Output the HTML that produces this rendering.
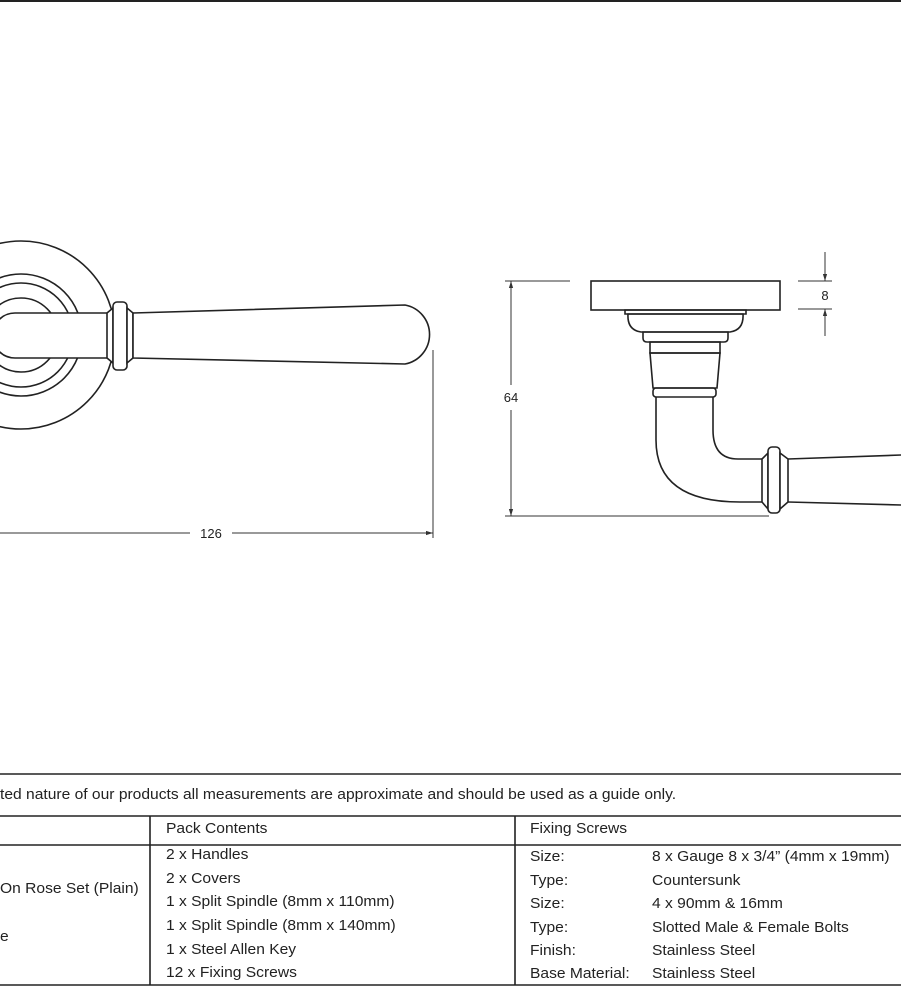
<!DOCTYPE html>
<html><head><style>
body{margin:0;width:901px;height:1001px;background:#fff;overflow:hidden;position:relative;font-family:"Liberation Sans Narrow","Liberation Sans",sans-serif;color:#222}
svg{position:absolute;left:0;top:0}
.t{position:absolute;font-size:15px;white-space:nowrap;transform-origin:0 0;transform:scaleX(1.04)}
</style></head><body>
<svg width="901" height="1001" viewBox="0 0 901 1001">
<defs><marker id="a" viewBox="0 0 10 10" refX="10" refY="5" markerWidth="7" markerHeight="7" orient="auto-start-reverse"><path d="M0,2 L10,5 L0,8z" fill="#333"/></marker></defs>
<g fill="none" stroke="#222" stroke-width="1.6">
<line x1="0" y1="1" x2="901" y2="1" stroke-width="2"/>
<circle cx="21" cy="335" r="94"/>
<circle cx="21" cy="335" r="61"/>
<circle cx="21" cy="335" r="52"/>
<circle cx="21" cy="335" r="37"/>
<path d="M107,313 L15,313 A22,22 0 0 0 15,358 L107,358" fill="#fff"/>
<path d="M107,313 L113,308 L113,363 L107,358 Z" fill="#fff"/>
<rect x="113" y="302" width="14" height="68" rx="4" fill="#fff"/>
<path d="M127,308 L133,313 L133,358 L127,363 Z" fill="#fff"/>
<path d="M133,313 L405,305 A30,30 0 0 1 405,364 L133,358 Z" fill="#fff"/>
<rect x="591" y="281" width="189" height="29"/>
<path d="M625,310 L746,310 L746,314 L625,314 Z"/>
<path d="M628,314 L743,314 Q744,330 730,332 L641,332 Q627,330 628,314 Z"/>
<path d="M643,332 L728,332 L728,338 Q728,342 724,342 L647,342 Q643,342 643,338 Z"/>
<rect x="650" y="342" width="70" height="11"/>
<path d="M650,353 L720,353 L717,388 L653,388 Z"/>
<rect x="653" y="388" width="63" height="9" rx="3"/>
<path d="M656,397 L656,440 Q656,502 740,502 L762,502"/>
<path d="M713,397 L713,430 Q713,459 738,459 L762,459"/>
<path d="M762,459 L768,453 L768,509 L762,502 Z" fill="#fff"/>
<rect x="768" y="447" width="12" height="66" rx="4" fill="#fff"/>
<path d="M780,453 L788,459 L788,502 L780,509 Z" fill="#fff"/>
<path d="M788,459 L901,455 M788,502 L901,505"/>
</g>
<g stroke="#333" stroke-width="1" fill="none">
<line x1="433" y1="350" x2="433" y2="538"/>
<line x1="0" y1="533" x2="190" y2="533"/>
<line x1="232" y1="533" x2="433" y2="533" marker-end="url(#a)"/>
<line x1="505" y1="281" x2="570" y2="281"/>
<line x1="505" y1="516" x2="769" y2="516"/>
<line x1="511" y1="385" x2="511" y2="281" marker-end="url(#a)"/>
<line x1="511" y1="410" x2="511" y2="516" marker-end="url(#a)"/>
<line x1="798" y1="281" x2="832" y2="281"/>
<line x1="798" y1="309" x2="832" y2="309"/>
<line x1="825" y1="252" x2="825" y2="281" marker-end="url(#a)"/>
<line x1="825" y1="336" x2="825" y2="309" marker-end="url(#a)"/>
</g>
<g stroke="#222" stroke-width="1.6">
<line x1="0" y1="774" x2="901" y2="774"/>
<line x1="0" y1="816" x2="901" y2="816"/>
<line x1="0" y1="845" x2="901" y2="845"/>
<line x1="0" y1="985" x2="901" y2="985"/>
<line x1="150" y1="816" x2="150" y2="985"/>
<line x1="515" y1="816" x2="515" y2="985"/>
</g>
<g font-family="Liberation Sans Narrow, Liberation Sans, sans-serif" font-size="13" fill="#222" text-anchor="middle">
<text x="211" y="538">126</text>
<text x="511" y="402">64</text>
<text x="825" y="300">8</text>
</g>
</svg>
<div class="t" style="left:0;top:786px">ted nature of our products all measurements are approximate and should be used as a guide only.</div>
<div class="t" style="left:166px;top:820px">Pack Contents</div>
<div class="t" style="left:530px;top:820px">Fixing Screws</div>
<div class="t" style="left:0;top:880px">On Rose Set (Plain)</div>
<div class="t" style="left:0;top:928px">e</div>
<div class="t" style="left:166px;top:846px">2 x Handles</div>
<div class="t" style="left:166px;top:870px">2 x Covers</div>
<div class="t" style="left:166px;top:893px">1 x Split Spindle (8mm x 110mm)</div>
<div class="t" style="left:166px;top:917px">1 x Split Spindle (8mm x 140mm)</div>
<div class="t" style="left:166px;top:941px">1 x Steel Allen Key</div>
<div class="t" style="left:166px;top:964px">12 x Fixing Screws</div>
<div class="t" style="left:530px;top:848px">Size:</div>
<div class="t" style="left:530px;top:872px">Type:</div>
<div class="t" style="left:530px;top:895px">Size:</div>
<div class="t" style="left:530px;top:919px">Type:</div>
<div class="t" style="left:530px;top:942px">Finish:</div>
<div class="t" style="left:530px;top:965px">Base Material:</div>
<div class="t" style="left:652px;top:848px">8 x Gauge 8 x 3/4” (4mm x 19mm)</div>
<div class="t" style="left:652px;top:872px">Countersunk</div>
<div class="t" style="left:652px;top:895px">4 x 90mm &amp; 16mm</div>
<div class="t" style="left:652px;top:919px">Slotted Male &amp; Female Bolts</div>
<div class="t" style="left:652px;top:942px">Stainless Steel</div>
<div class="t" style="left:652px;top:965px">Stainless Steel</div>
</body></html>
